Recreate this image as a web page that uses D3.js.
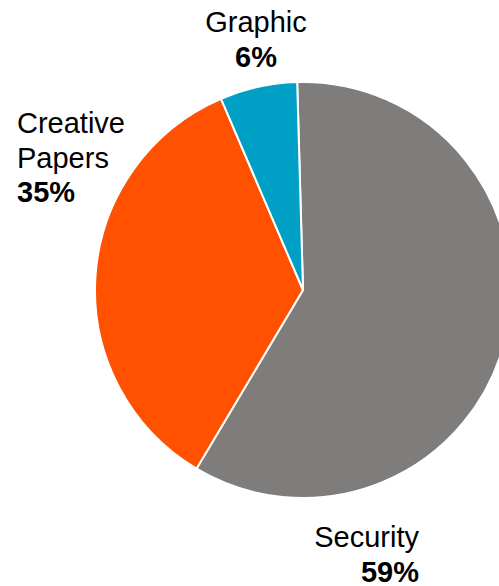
<!DOCTYPE html>
<html>
<head>
<meta charset="utf-8">
<script src="https://cdn.jsdelivr.net/npm/d3@7"></script>
<style>
  body { margin: 0; background: #fff; }
  text { font-family: "Liberation Sans", Arial, sans-serif; fill: #000; }
</style>
</head>
<body>
<div id="pie"></div>
<script>
const width = 499,
  height = 586;

// data
const categories = ["Security", "Creative Papers", "Graphic"];
const values = [59, 35, 6];
const colors = ["#7f7d7b", "#ff5100", "#009fc6"];

// label layout: [lines], x, y of first baseline, anchor
const labelLayout = [
  { lines: ["Security"], x: 419, y: 547, anchor: "end" },
  { lines: ["Creative", "Papers"], x: 17, y: 133, anchor: "start" },
  { lines: ["Graphic"], x: 256, y: 32, anchor: "middle" }
];

const cx = 303, cy = 290, radius = 208;

const svg = d3.select("#pie")
  .append("svg")
  .attr("width", width)
  .attr("height", height)
  .attr("viewBox", [0, 0, width, height]);

const pie = d3.pie()
  .sort(null)
  .startAngle(-0.028)
  .endAngle(-0.028 + 2 * Math.PI)
  .value(d => d);

const arc = d3.arc()
  .innerRadius(0)
  .outerRadius(radius);

const total = d3.sum(values);

svg.append("g")
  .attr("transform", `translate(${cx},${cy})`)
  .selectAll("path")
  .data(pie(values))
  .join("path")
  .attr("d", arc)
  .attr("fill", (d, i) => colors[i])
  .attr("stroke", "#fff")
  .attr("stroke-width", 2);

// labels
const lineH = 34.5;
categories.forEach((c, i) => {
  const l = labelLayout[i];
  const t = svg.append("text")
    .attr("text-anchor", l.anchor)
    .attr("font-size", 29);
  l.lines.forEach((s, j) => {
    t.append("tspan").attr("x", l.x).attr("y", l.y + j * lineH).text(s);
  });
  t.append("tspan")
    .attr("x", l.x)
    .attr("y", l.y + l.lines.length * lineH)
    .attr("font-weight", 700)
    .text(Math.round(values[i] / total * 100) + "%");
});
</script>
</body>
</html>
